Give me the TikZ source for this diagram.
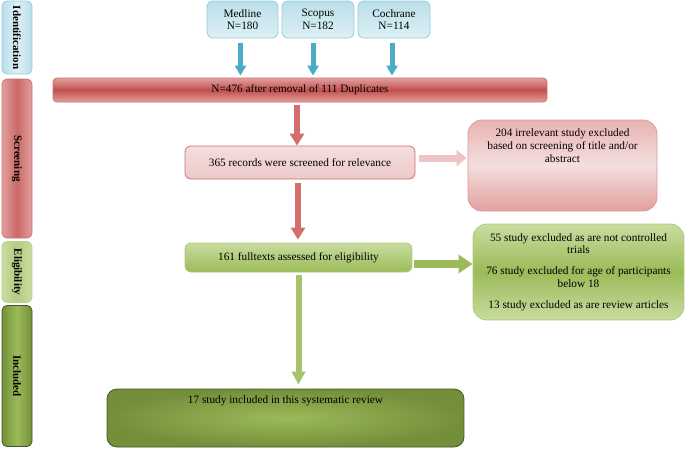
\documentclass[tikz,border=0pt]{standalone}
\usepackage{fontspec}
\setmainfont{Liberation Serif}
\usetikzlibrary{arrows.meta,calc}

\definecolor{aqua}{RGB}{75,172,198}
\definecolor{aqualight}{RGB}{222,240,245}
\definecolor{aquamid}{RGB}{186,223,234}
\definecolor{aquaedge}{RGB}{146,205,220}
\definecolor{brick}{RGB}{192,80,77}
\definecolor{bricklight}{RGB}{226,160,158}
\definecolor{brickpale}{RGB}{244,222,222}
\definecolor{brickedge}{RGB}{210,110,108}
\definecolor{brickarrow}{RGB}{238,196,196}
\definecolor{leaf}{RGB}{155,187,89}
\definecolor{leaflight}{RGB}{200,220,160}
\definecolor{leafarrow}{RGB}{165,195,105}
\definecolor{olive}{RGB}{116,143,58}
\definecolor{oliveedge}{RGB}{70,84,36}

\tikzset{
  stagebox/.style={draw, rounded corners=5pt, line width=0.8pt, rotate=-90,
    minimum height=30, inner sep=0pt, font=\bfseries\fontsize{11}{12}\selectfont},
  flowbox/.style={draw, rounded corners=6pt, line width=0.8pt, inner sep=0pt,
    align=center, font=\fontsize{11.3}{12.5}\selectfont},
  flowtext/.style={align=center, anchor=north, inner sep=0pt,
    font=\fontsize{11.3}{13}\selectfont},
  bluearrow/.style={draw=aqua, line width=5pt, -{Triangle[length=10pt,width=11pt]}},
  redarrow/.style={draw=brickedge, line width=6pt, -{Triangle[length=12pt,width=14pt]}},
  pinkarrow/.style={draw=brickarrow, line width=7pt, -{Triangle[length=10pt,width=16pt]}},
  greenarrow/.style={draw=leaf, line width=8pt, -{Triangle[length=14pt,width=18pt]}},
  lightgreenarrow/.style={draw=leafarrow, line width=6pt, -{Triangle[length=13pt,width=13pt]}}
}

\begin{document}
\begin{tikzpicture}[x=1pt,y=-1pt]
  \useasboundingbox (0,0) rectangle (685,448);

  \node[stagebox, draw=aquaedge, left color=aquamid, right color=aquamid, middle color=aqualight,
    minimum width=73] (ident) at (17,37.5) {Identification};
  \node[stagebox, draw=brickedge, left color=bricklight, right color=bricklight, middle color=brick!85!white,
    minimum width=159] (screening) at (17,158.5) {Screening};
  \node[stagebox, draw=leaf!70!white, left color=leaflight, right color=leaflight, middle color=leaf!75!white,
    minimum width=61] (eligibility) at (17,272) {Eligibility};
  \node[stagebox, draw=oliveedge, left color=olive, right color=olive, middle color=leaf,
    minimum width=141] (included) at (17,376) {Included};

  \node[flowbox, draw=aquaedge, top color=aquamid, bottom color=aqualight,
    minimum width=71, minimum height=37] (medline) at (242.5,19.5) {Medline\\N=180};
  \node[flowbox, draw=aquaedge, top color=aquamid, bottom color=aqualight,
    minimum width=72, minimum height=37] (scopus) at (318,19.5) {Scopus\\N=182};
  \node[flowbox, draw=aquaedge, top color=aquamid, bottom color=aqualight,
    minimum width=72, minimum height=37] (cochrane) at (394,19.5) {Cochrane\\N=114};

  \node[flowbox, rounded corners=4pt, draw=brickedge, top color=bricklight, bottom color=bricklight,
    middle color=brick, minimum width=494, minimum height=24] (dedup) at (300,90)
    {N=476 after removal of 111 Duplicates};

  \node[flowbox, draw=brickedge, top color=brickpale, bottom color=brickpale!85!brick,
    minimum width=230, minimum height=33] (screen) at (300,162.5)
    {365 records were screened for relevance};
  \node[flowbox, rounded corners=14pt, draw=brickedge!70!white, top color=bricklight!80!white,
    bottom color=bricklight, middle color=brickpale,
    minimum width=189, minimum height=91] (exclA) at (562.5,165.5) {};
  \node[flowtext] (exclAtext) at ([yshift=-9pt]exclA.north)
    {204 irrelevant study excluded\\based on screening of title and/or\\abstract};

  \node[flowbox, draw=leaf!80!white, top color=leaflight, bottom color=leaf,
    minimum width=227, minimum height=29] (elig) at (298.5,257.5)
    {161 fulltexts assessed for eligibility};
  \node[flowbox, rounded corners=14pt, draw=leaf!80!white, top color=leaflight, bottom color=leaflight,
    middle color=leaf, minimum width=211, minimum height=96] (exclB) at (578.5,272)
    {55 study excluded as are not controlled\\trials\\[8.5pt]76 study excluded for age of participants\\below 18\\[8.5pt]13 study excluded as are review articles};

  \node[flowbox, rounded corners=10pt, draw=oliveedge, inner color=leaf, outer color=olive,
    minimum width=357, minimum height=58] (incl) at (285.5,418) {};
  \node[flowtext] (incltext) at ([yshift=-7pt]incl.north) {17 study included in this systematic review};

  \draw[bluearrow, shorten >=2pt] ([xshift=-2pt,yshift=-5pt]medline.south) -- ([xshift=-2pt]medline.south |- dedup.north);
  \draw[bluearrow, shorten >=2pt] ([xshift=-5pt,yshift=-5pt]scopus.south) -- ([xshift=-5pt]scopus.south |- dedup.north);
  \draw[bluearrow, shorten >=2pt] ([xshift=-2pt,yshift=-5pt]cochrane.south) -- ([xshift=-2pt]cochrane.south |- dedup.north);
  \draw[redarrow] ([xshift=-3pt,yshift=-3pt]dedup.south) -- ([xshift=-3pt]dedup.south |- screen.north);
  \draw[redarrow, shorten >=3pt] ([xshift=-2pt,yshift=-4pt]screen.south) -- ([xshift=-2pt]screen.south |- elig.north);
  \draw[pinkarrow, shorten >=1pt] ([xshift=4pt,yshift=4.5pt]screen.east) -- ([yshift=4.5pt]screen.east -| exclA.west);
  \draw[greenarrow] ([xshift=2pt,yshift=-6.5pt]elig.east) -- ([yshift=-6.5pt]elig.east -| exclB.west);
  \draw[lightgreenarrow, shorten >=4pt] ([yshift=-3pt]elig.south) -- (elig.south |- incl.north);
\end{tikzpicture}
\end{document}
